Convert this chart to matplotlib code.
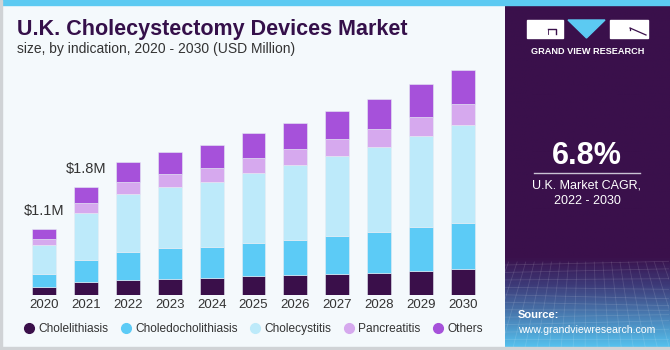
import numpy as np
import matplotlib
matplotlib.use("Agg")
import matplotlib.pyplot as plt
from matplotlib.patches import Rectangle, Polygon
from matplotlib.lines import Line2D
from matplotlib.colors import LinearSegmentedColormap

plt.rcParams['font.family'] = ['Liberation Sans', 'DejaVu Sans']

years = ['2020', '2021', '2022', '2023', '2024', '2025', '2026', '2027', '2028', '2029', '2030']
cholelithiasis = [0.13, 0.21, 0.25, 0.27, 0.29, 0.31, 0.33, 0.35, 0.37, 0.40, 0.43]
choledocholithiasis = [0.22, 0.37, 0.47, 0.51, 0.51, 0.56, 0.59, 0.63, 0.68, 0.74, 0.77]
cholecystitis = [0.48, 0.78, 0.96, 1.02, 1.09, 1.16, 1.24, 1.33, 1.41, 1.51, 1.63]
pancreatitis = [0.11, 0.17, 0.21, 0.22, 0.23, 0.25, 0.27, 0.29, 0.31, 0.32, 0.35]
others = [0.16, 0.27, 0.33, 0.36, 0.38, 0.42, 0.44, 0.46, 0.50, 0.55, 0.57]
labels = {0: '$1.1M', 1: '$1.8M'}

series = [
    ('Cholelithiasis', cholelithiasis, '#3a0f4a'),
    ('Choledocholithiasis', choledocholithiasis, '#5ccbf6'),
    ('Cholecystitis', cholecystitis, '#bdeafa'),
    ('Pancreatitis', pancreatitis, '#d6a9ee'),
    ('Others', others, '#a651da'),
]

W, H = 670, 350
def fx(x):
    return x / W
def fy(y):
    return 1 - y / H

bg = '#f4f9fc'
fig = plt.figure(figsize=(6.7, 3.5), dpi=100, facecolor=bg)

# bars
ax = fig.add_axes([fx(23), fy(295), fx(461), (295 - 60) / H])
ax.set_facecolor('none')
x = np.arange(len(years))
bottom = np.zeros(len(years))
for name, vals, col in series:
    ax.bar(x, vals, 0.57, bottom=bottom, color=col, edgecolor='#e6edf4', linewidth=0.4, label=name)
    bottom += np.array(vals)
ax.set_xlim(-0.5, len(years) - 0.5)
ax.set_ylim(0, 235 / 60)
for i, t in labels.items():
    ax.annotate(t, (x[i], bottom[i]), xytext=(0, 8), textcoords='offset points',
                ha='center', va='bottom', fontsize=10.5, color='#333333')
ax.set_xticks(x)
ax.set_xticklabels(years, fontsize=9.5, color='#333333')
ax.tick_params(axis='x', length=0, pad=3)
ax.set_yticks([])
for s in ax.spines.values():
    s.set_visible(False)

handles = [Line2D([], [], marker='o', linestyle='none', markersize=7, markerfacecolor=c,
                  markeredgecolor=c, label=n) for n, _, c in series]
fig.legend(handles=handles, loc='center', bbox_to_anchor=(fx(253), fy(329)), ncol=5,
           frameon=False, fontsize=8.6, handletextpad=0.25, columnspacing=1.0,
           labelcolor='#333333', handlelength=1.0)

# titles
fig.text(fx(17), fy(29), 'U.K. Cholecystectomy Devices Market', fontsize=15.5, fontweight='bold',
         color='#35104a', va='center', ha='left')
fig.text(fx(17), fy(49), 'size, by indication, 2020 - 2030 (USD Million)', fontsize=10,
         color='#333333', va='center', ha='left')

# top stripe and borders
fig.patches.append(Rectangle((0, fy(5)), 1, 5 / H, transform=fig.transFigure, color='#5ccaf2', zorder=5))
fig.patches.append(Rectangle((0, 0), 1, 3 / H, transform=fig.transFigure, color='#d0d3d6', zorder=5))
fig.patches.append(Rectangle((0, 0), 1.5 / W, 1, transform=fig.transFigure, color='#d0d3d6', zorder=5))

# right panel
pan = fig.add_axes([fx(505), fy(347), fx(164), (347 - 5) / H])
pan.set_xlim(505, 669)
pan.set_ylim(347, 5)
pan.axis('off')
cmap = LinearSegmentedColormap.from_list('p', [(0, '#3a104b'), (0.74, '#3a104b'), (0.82, '#3d3a78'),
                                              (1.0, '#55bfec')])
grad = np.linspace(0, 1, 300).reshape(-1, 1)
pan.imshow(grad, extent=(505, 669, 347, 5), aspect='auto', cmap=cmap, zorder=0)
# faint grid texture
for yy in np.linspace(265, 347, 12):
    pan.plot([505, 669], [yy, yy + 4 * np.sin(yy / 9)], color='white', alpha=0.12, lw=0.6, zorder=1)
for xx in np.linspace(500, 680, 22):
    pan.plot([xx, xx + (xx - 587) * 0.4], [262, 347], color='white', alpha=0.12, lw=0.6, zorder=1)

# logo
pan.add_patch(Rectangle((527, 20), 36, 18, color='white', zorder=2))
pan.plot([548, 556, 556], [29, 29, 34], color='#3a104b', lw=1.0, zorder=3)
pan.plot([548, 548], [29, 34], color='#3a104b', lw=0.6, zorder=3)
pan.add_patch(Polygon([(568, 20), (605, 20), (586.5, 38)], color='#5ccaf2', zorder=2))
pan.add_patch(Rectangle((610, 20), 38, 18, color='white', zorder=2))
pan.plot([630, 646], [28, 35], color='#3a104b', lw=0.9, zorder=3)
pan.plot([630, 630], [28, 30], color='#3a104b', lw=0.9, zorder=3)
pan.text(587.5, 51, 'GRAND VIEW RESEARCH', color='white', fontsize=6.6, fontweight='bold',
         ha='center', va='center', zorder=3)

pan.text(587, 156, '6.8%', color='white', fontsize=22, fontweight='bold', ha='center', va='center', zorder=3)
pan.plot([534, 640], [173, 173], color='#c9c2d3', lw=1.0, zorder=3)
pan.text(587, 186, 'U.K. Market CAGR,', color='white', fontsize=9, ha='center', va='center', zorder=3)
pan.text(587, 201, '2022 - 2030', color='white', fontsize=9, ha='center', va='center', zorder=3)
pan.text(518, 315, 'Source:', color='white', fontsize=8, fontweight='bold', ha='left', va='center', zorder=3)
pan.text(518, 330, 'www.grandviewresearch.com', color='white', fontsize=7.6, ha='left', va='center', zorder=3)

fig.savefig('out.png', dpi=100, facecolor=bg)
